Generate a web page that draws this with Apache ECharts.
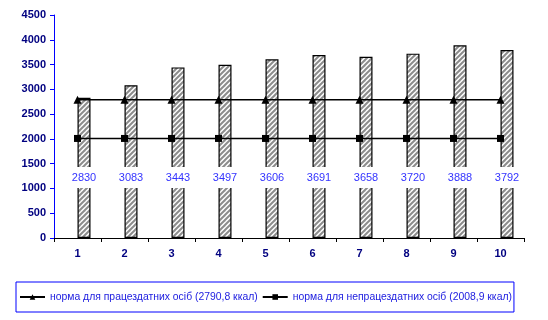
<!DOCTYPE html>
<html><head><meta charset="utf-8">
<script src="https://cdn.jsdelivr.net/npm/echarts@6/dist/echarts.min.js"></script>
<style>html,body{margin:0;padding:0;background:#fff}#c{width:548px;height:320px}</style>
</head><body><div id="c"></div>
<script>
var categories = ['1','2','3','4','5','6','7','8','9','10'];
var barValues = [2830,3083,3443,3497,3606,3691,3658,3720,3888,3792];
var normWorking = 2790.8;
var normNonWorking = 2008.9;
var yTicks = {min:0, max:4500, interval:500};
var legendNames = ['норма для працездатних осіб (2790,8 ккал)','норма для непрацездатних осіб (2008,9 ккал)'];

var cv = document.createElement('canvas');
cv.width = 5; cv.height = 5;
var cx = cv.getContext('2d');
cx.fillStyle = '#fff'; cx.fillRect(0,0,5,5);
cx.strokeStyle = '#8c8c8c'; cx.lineWidth = 2;
[[-5,0],[0,0],[5,0]].forEach(function(o){
  cx.beginPath(); cx.moveTo(o[0]-1,6); cx.lineTo(o[0]+6,-1); cx.stroke();
});

var chart = echarts.init(document.getElementById('c'), null, {renderer:'canvas'});
var font = 'Arial';
chart.setOption({
  animation:false,
  grid:{left:54,right:24,top:15,bottom:82},
  legend:{
    left:16, top:282, width:530, itemGap:4, itemWidth:25, itemHeight:7,
    padding:[10,2,10,3],
    borderColor:'#0000ff', borderWidth:1,
    textStyle:{color:'#2020e0', fontFamily:font, fontSize:10.4},
    data:[legendNames[0], legendNames[1]]
  },
  xAxis:{
    type:'category', data:categories, boundaryGap:true,
    axisLine:{lineStyle:{color:'#000', width:1}},
    axisTick:{show:true, length:4, lineStyle:{color:'#000'}},
    axisLabel:{color:'#000080', fontWeight:'bold', fontFamily:font, fontSize:11, margin:10}
  },
  yAxis:{
    type:'value', min:yTicks.min, max:yTicks.max, interval:yTicks.interval,
    splitLine:{show:false},
    axisLine:{show:true, lineStyle:{color:'#0000ff', width:1}},
    axisTick:{show:true, length:4, lineStyle:{color:'#0000ff'}},
    axisLabel:{color:'#000080', fontWeight:'bold', fontFamily:font, fontSize:11, margin:8,
      formatter:function(v){return String(v);}}
  },
  series:[
    {type:'bar', name:'_dummy', data:categories.map(function(){return 0;}), barWidth:13, barGap:'0%', silent:true,
     itemStyle:{color:'transparent'}},
    {type:'bar', name:'values', data:barValues, barWidth:13, barGap:'0%',
     itemStyle:{color:{image:cv, repeat:'repeat'}, borderColor:'#000', borderWidth:1.2},
     label:{show:true, position:'insideBottom', distance:50, color:'#3333ff', fontFamily:font, fontSize:11,
       backgroundColor:'#fff', padding:[5,1,5,1]}},
    {type:'line', name:legendNames[0], data:categories.map(function(){return normWorking;}),
     symbol:'triangle', symbolSize:8, lineStyle:{color:'#000', width:1.5}, itemStyle:{color:'#000'}, z:5},
    {type:'line', name:legendNames[1], data:categories.map(function(){return normNonWorking;}),
     symbol:'rect', symbolSize:7, lineStyle:{color:'#000', width:1.5}, itemStyle:{color:'#000'}, z:5}
  ]
});
</script></body></html>
